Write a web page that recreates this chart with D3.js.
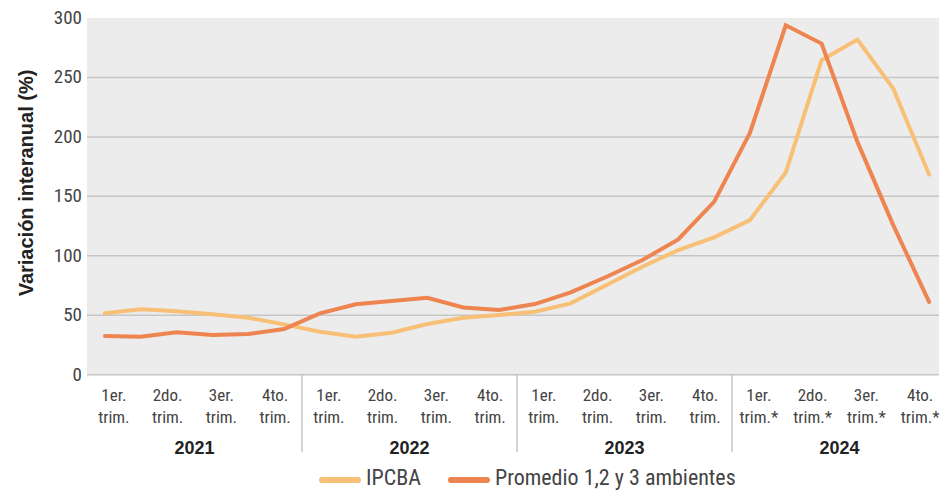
<!DOCTYPE html>
<html>
<head>
<meta charset="utf-8">
<script src="https://cdn.jsdelivr.net/npm/d3@7"></script>
<style>
  body { margin: 0; background: #fff; }
  svg { display: block; }
  .narrow { font-family: "Liberation Sans Narrow", "Arial Narrow", "Roboto Condensed", "Liberation Sans", sans-serif; }
  .bold { font-family: "Liberation Sans", Arial, sans-serif; font-weight: bold; }
</style>
</head>
<body>
<script>
// bimonthly points, 6 per year
var years = ['2021', '2022', '2023', '2024']
var quarters = ['1er.', '2do.', '3er.', '4to.']
var ipcba = [51.6, 55, 53.3, 50.8, 47.9, 42.3,
  36.1, 32, 35.3, 42.6, 47.9, 50.2,
  52.9, 60, 75.4, 90.8, 104.8, 115.5,
  130, 170, 264.5, 281.8, 240.7, 168.4]
var promedio = [32.5, 32, 35.6, 33.4, 34.2, 38.4,
  51.6, 59.2, 61.9, 64.7, 56.6, 54.4,
  59.4, 69.2, 82.4, 96.4, 113.8, 145.4,
  203.4, 293.9, 278.5, 195.8, 125.8, 61.3]
var yTicks = [0, 50, 100, 150, 200, 250, 300]
var seriesNames = ['IPCBA', 'Promedio 1,2 y 3 ambientes']
var colors = ['#F8C077', '#EE844F']

var width = 939
var height = 490
var pLeft = 87, pRight = 947, pTop = 18, pBottom = 374.7

var svg = d3.select('body').append('svg')
  .attr('width', width)
  .attr('height', height)

var idx = d3.range(ipcba.length)
var x = d3.scalePoint().domain(idx).range([pLeft, pRight]).padding(0.5)
var qKeys = []
years.forEach(function (yr) {
  quarters.forEach(function (q) { qKeys.push(yr + q) })
})
var xq = d3.scaleBand().domain(qKeys).range([pLeft, pRight])
var xy = d3.scaleBand().domain(years).range([pLeft, pRight])
var y = d3.scaleLinear().domain([0, 300]).range([pBottom, pTop])

svg.append('rect')
  .attr('x', pLeft).attr('y', pTop)
  .attr('width', pRight - pLeft).attr('height', pBottom - pTop)
  .attr('fill', '#ECECEC')

svg.append('g').selectAll('line')
  .data(yTicks.filter(d => d < 300))
  .enter().append('line')
  .attr('x1', pLeft).attr('x2', pRight)
  .attr('y1', d => y(d)).attr('y2', d => y(d))
  .attr('stroke', '#C6C6C6')
  .attr('stroke-width', 1.5)

svg.append('g').selectAll('text')
  .data(yTicks)
  .enter().append('text')
  .attr('class', 'narrow')
  .attr('x', 82)
  .attr('y', d => y(d) + 6)
  .attr('text-anchor', 'end')
  .attr('font-size', 19)
  .attr('fill', '#444')
  .text(d => d)

svg.append('text')
  .attr('class', 'bold')
  .attr('transform', 'translate(33,' + 183 + ') rotate(-90)')
  .attr('text-anchor', 'middle')
  .attr('font-size', 20)
  .attr('fill', '#222')
  .text('Variación interanual (%)')

// year separators
svg.append('g').selectAll('line')
  .data(years.slice(1))
  .enter().append('line')
  .attr('x1', d => xy(d)).attr('x2', d => xy(d))
  .attr('y1', pBottom).attr('y2', 452)
  .attr('stroke', '#C6C6C6')
  .attr('stroke-width', 1.5)

var ql = svg.append('g').selectAll('text')
  .data(qKeys)
  .enter().append('text')
  .attr('class', 'narrow')
  .attr('text-anchor', 'middle')
  .attr('font-size', 17)
  .attr('fill', '#444')
ql.append('tspan')
  .attr('x', d => xq(d) + xq.bandwidth() / 2)
  .attr('y', 401)
  .text(d => d.slice(4))
ql.append('tspan')
  .attr('x', d => xq(d) + xq.bandwidth() / 2)
  .attr('y', 423)
  .text(d => d.slice(0, 4) === '2024' ? 'trim.*' : 'trim.')

svg.append('g').selectAll('text')
  .data(years)
  .enter().append('text')
  .attr('class', 'bold')
  .attr('x', d => xy(d) + xy.bandwidth() / 2)
  .attr('y', 454)
  .attr('text-anchor', 'middle')
  .attr('font-size', 18)
  .attr('fill', '#222')
  .text(d => d)

var line = d3.line()
  .x((d, i) => x(i))
  .y(d => y(d))

;[ipcba, promedio].forEach(function (s, k) {
  svg.append('path')
    .datum(s)
    .attr('d', line)
    .attr('fill', 'none')
    .attr('stroke', colors[k])
    .attr('stroke-width', 4)
    .attr('stroke-linejoin', 'miter')
    .attr('stroke-linecap', 'round')
})

// legend
var legX = [322, 451]
seriesNames.forEach(function (name, k) {
  var g = svg.append('g').attr('transform', 'translate(' + legX[k] + ',480)')
  g.append('line')
    .attr('x1', 0).attr('x2', 36)
    .attr('stroke', colors[k])
    .attr('stroke-width', 6)
    .attr('stroke-linecap', 'round')
  g.append('text')
    .attr('class', 'narrow')
    .attr('x', 44).attr('y', 5)
    .attr('font-size', 22)
    .attr('fill', '#444')
    .text(name)
})
</script>
</body>
</html>
